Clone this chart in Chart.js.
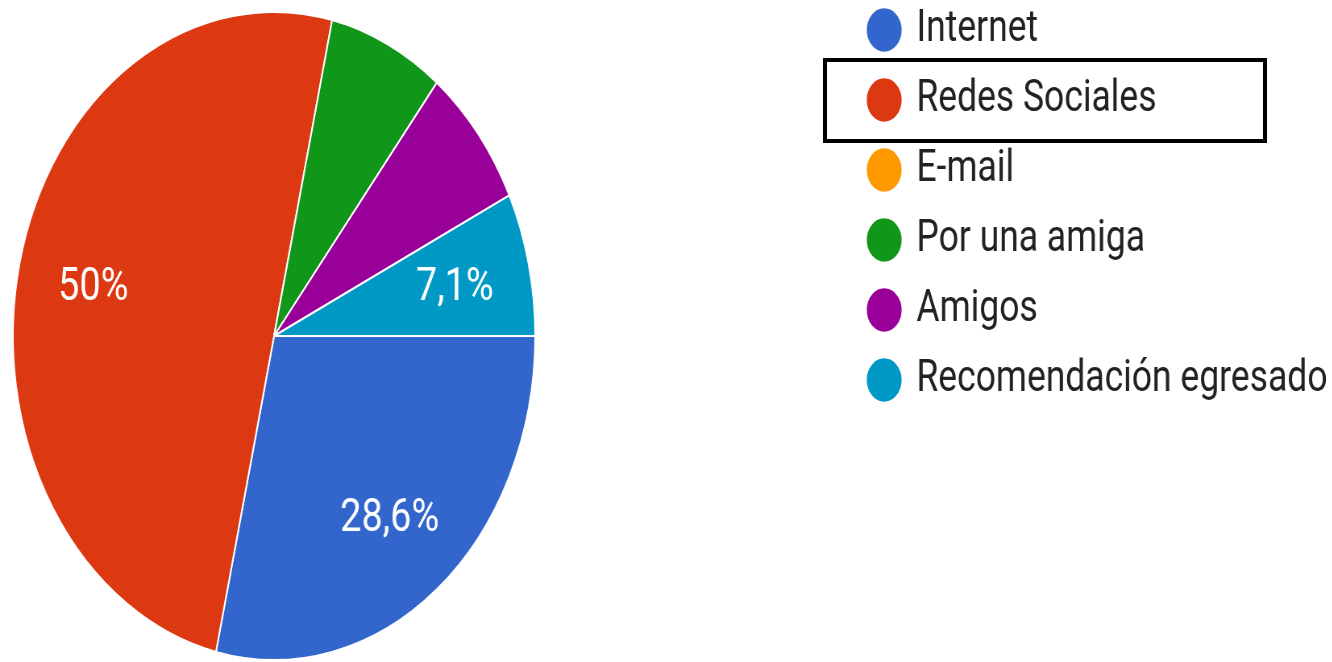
<!DOCTYPE html>
<html>
<head>
<meta charset="utf-8">
<script src="https://cdn.jsdelivr.net/npm/chart.js@4/dist/chart.umd.min.js"></script>
<style>
  html, body { margin: 0; padding: 0; background: #fff; overflow: hidden; }
  .stage { position: relative; width: 1332px; height: 662px; }
  /* the original picture is squeezed horizontally, so the whole canvas is too */
  .squeeze { position: absolute; left: 0; top: 0; transform: scaleX(0.806); transform-origin: 0 0; }
  .highlight { position: absolute; left: 823px; top: 58px; width: 436px; height: 77px; border: 4px solid #000; }
</style>
</head>
<body>
<div class="stage">
  <div class="squeeze">
    <canvas id="pieCanvas" width="1653" height="662"></canvas>
  </div>
  <div class="highlight"></div>
</div>
<script>
const categories = [
  "Internet",
  "Redes Sociales",
  "E-mail",
  "Por una amiga",
  "Amigos",
  "Recomendación egresado",
];
const responses = [4, 7, 0, 1, 1, 1];
const sliceColors = ["#3366cc", "#dc3912", "#ff9900", "#109618", "#990099", "#0099c6"];
const showPercent = [true, true, false, false, false, true];

const PIE_AREA_W = 680;
const LEGEND_LEFT = 1053;
const LEGEND_TOP = -18;

const formatPercent = (v, total) => {
  const p = Math.round((v / total) * 1000) / 10;
  return String(p).replace(".", ",") + "%";
};

// keeps the legend far to the right, like the original layout
const legendPlacement = {
  id: "legendPlacement",
  beforeLayout(chart) {
    const legend = chart.legend;
    if (legend && !legend._patched) {
      const fit = legend.fit;
      legend.fit = function () {
        fit.call(this);
        this.width = chart.width - PIE_AREA_W;
      };
      legend._patched = true;
    }
  },
  afterLayout(chart) {
    chart.legend.left = LEGEND_LEFT;
    chart.legend.top = LEGEND_TOP;
  },
};

const sliceLabels = {
  id: "sliceLabels",
  afterDatasetsDraw(chart) {
    const ctx = chart.ctx;
    const data = chart.data.datasets[0].data;
    const total = data.reduce((a, b) => a + b, 0);
    const meta = chart.getDatasetMeta(0);
    ctx.save();
    ctx.fillStyle = "#ffffff";
    ctx.font = "47px Roboto";
    ctx.textAlign = "center";
    ctx.textBaseline = "middle";
    meta.data.forEach((arc, i) => {
      if (!showPercent[i]) return;
      const { x, y, startAngle, endAngle, outerRadius } = arc.getProps(
        ["x", "y", "startAngle", "endAngle", "outerRadius"],
        true
      );
      const mid = (startAngle + endAngle) / 2;
      const r = outerRadius * 0.71;
      ctx.fillText(formatPercent(data[i], total), x + Math.cos(mid) * r, y + Math.sin(mid) * r + 3);
    });
    ctx.restore();
  },
};

new Chart(document.getElementById("pieCanvas"), {
  type: "pie",
  data: {
    labels: categories,
    datasets: [
      {
        data: responses,
        backgroundColor: sliceColors,
        borderColor: "#ffffff",
        borderWidth: 2,
        hoverOffset: 0,
      },
    ],
  },
  options: {
    responsive: false,
    animation: false,
    devicePixelRatio: 1,
    rotation: 90,
    events: [],
    layout: {
      padding: { left: 0, right: 0, top: 11, bottom: 1 },
    },
    plugins: {
      tooltip: { enabled: false },
      legend: {
        position: "right",
        align: "start",
        labels: {
          usePointStyle: true,
          pointStyle: "circle",
          boxWidth: 36,
          boxHeight: 32,
          padding: 26,
          color: "#222222",
          font: { family: "Roboto", size: 44 },
        },
      },
    },
  },
  plugins: [legendPlacement, sliceLabels],
});
</script>
</body>
</html>
